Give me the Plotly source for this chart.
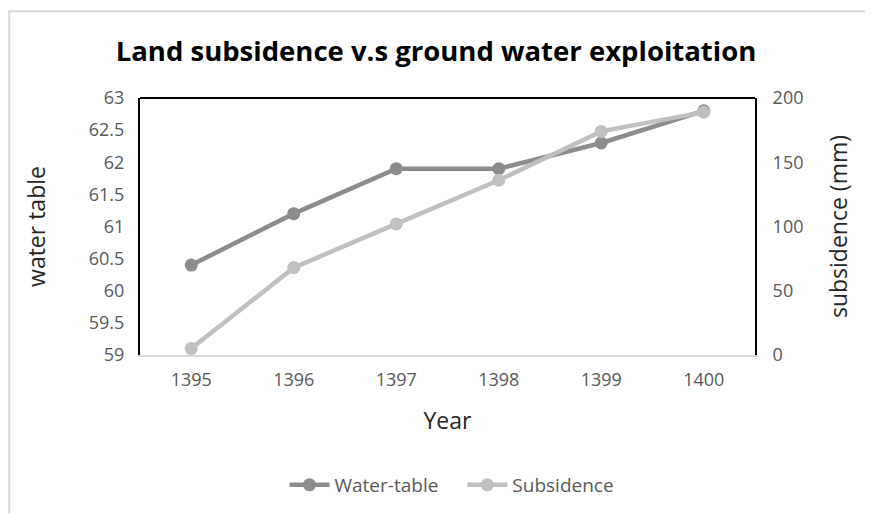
import plotly.graph_objects as go

years = ["1395", "1396", "1397", "1398", "1399", "1400"]
water_table = [60.4, 61.2, 61.9, 61.9, 62.3, 62.8]
subsidence = [5, 68, 102, 136, 174, 189]
left_ticks = [59, 59.5, 60, 60.5, 61, 61.5, 62, 62.5, 63]
right_ticks = [0, 50, 100, 150, 200]

FONT = "Open Sans"
W, H = 865, 507
L, R, T, B = 132, 118, 90, 159
PW, PH = W - L - R, H - T - B

fig = go.Figure()
fig.add_trace(go.Scatter(x=years, y=water_table, name="Water-table\u2003", mode="lines+markers",
                         line=dict(color="#8c8c8c", width=4.5),
                         marker=dict(color="#8c8c8c", size=13), yaxis="y"))
fig.add_trace(go.Scatter(x=years, y=subsidence, name="Subsidence", mode="lines+markers",
                         line=dict(color="#c0c0c0", width=4.5),
                         marker=dict(color="#c0c0c0", size=13), yaxis="y2"))

fig.update_layout(
    width=W, height=H,
    margin=dict(l=L, r=R, t=T, b=B),
    paper_bgcolor="white", plot_bgcolor="white",
    font=dict(family=FONT, color="#595959"),
    title=dict(text="<b>Land subsidence v.s ground water exploitation</b>",
               x=(436 - 8) / W, xanchor="center", y=1 - (51 - 8) / H, yanchor="middle",
               font=dict(family=FONT, size=27.5, color="#000000")),
    xaxis=dict(type="category", range=[-0.5, 5.5], showgrid=False, showline=True,
               linecolor="#d9d9d9", linewidth=2,
               ticks="", tickfont=dict(size=18, color="#595959"), ticklabelstandoff=7,
               title=dict(text="Year", font=dict(size=23, color="#262626"), standoff=23)),
    yaxis=dict(range=[59, 63], tickvals=left_ticks, ticktext=[f"{v:g}" for v in left_ticks],
               showgrid=False, showline=True, linecolor="#000000", linewidth=2, ticks="",
               zeroline=False, tickfont=dict(size=18, color="#595959"), ticklabelstandoff=10,
               title=dict(text="water table", font=dict(size=23, color="#262626"), standoff=37)),
    yaxis2=dict(range=[0, 200], tickvals=right_ticks, overlaying="y", side="right",
                showgrid=False, showline=True, linecolor="#000000", linewidth=2, ticks="",
                zeroline=False, tickfont=dict(size=18, color="#595959"), ticklabelstandoff=12,
                title=dict(text="subsidence (mm)", font=dict(size=23, color="#262626"), standoff=28)),
    legend=dict(orientation="h", x=(452 - 8 - L) / PW, xanchor="center",
                y=(T + PH - (485 - 8)) / PH, yanchor="middle",
                font=dict(size=19, color="#595959"), itemwidth=40),
    showlegend=True,
)
# top border of plot area
fig.add_shape(type="line", xref="paper", yref="paper", x0=0, x1=1, y0=1, y1=1,
              line=dict(color="#000000", width=2))
# outer chart border (left and top edges)
bx0 = -L / PW
by1 = (T + PH - 3) / PH
fig.add_shape(type="line", xref="paper", yref="paper", x0=bx0, x1=(W - L) / PW, y0=by1, y1=by1,
              line=dict(color="#d9d9d9", width=2))
fig.add_shape(type="line", xref="paper", yref="paper", x0=bx0 + 0.002, x1=bx0 + 0.002,
              y0=-(B) / PH, y1=by1, line=dict(color="#d9d9d9", width=2))

fig.write_html("out.html")
